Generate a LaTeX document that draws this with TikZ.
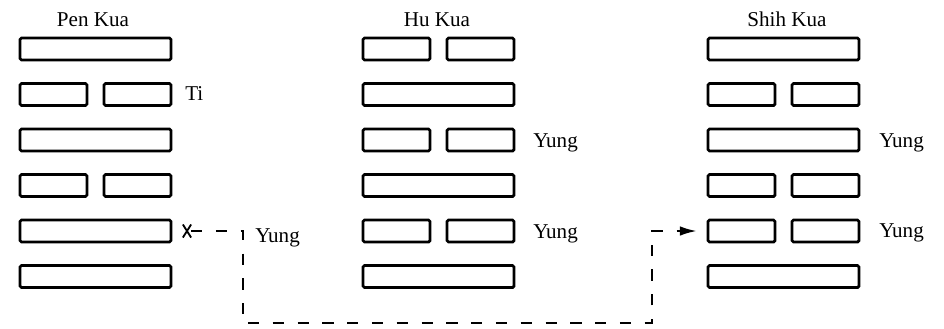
\documentclass[tikz,border=0pt]{standalone}
\usepackage{fontspec}
\setmainfont{Liberation Serif}
\usepackage{tikz}
\usetikzlibrary{positioning, arrows.meta, shapes.misc}

\begin{document}
\begin{tikzpicture}[x=0.25mm, y=-0.25mm,
    every node/.style={font=\fontsize{15}{18}\selectfont, inner sep=0pt},
    yang/.style={draw, line width=1.9pt, rounded corners=1pt,
                 minimum width=37.75mm, minimum height=5.5mm},
    yin/.style={yang, minimum width=16.75mm},
    link/.style={line width=1.4pt, dash pattern=on 2.8mm off 3.4mm}]
  \useasboundingbox (0,0) rectangle (944,328);
  % titles
  \node[anchor=base] (pent) at (93,26) {Pen Kua};
  \node[anchor=base] (hut) at (437,26) {Hu Kua};
  \node[anchor=base] (shiht) at (787,26) {Shih Kua};
  % Pen Kua
  \foreach \r in {1,3,5,6}
    \node[yang] (pen\r) at (95.5,{3.5+45.5*\r}) {};
  \foreach \r in {2,4} {
    \node[yin] (pen\r-l) at (53.5,{3.5+45.5*\r}) {};
    \node[yin] (pen\r-r) at (137.5,{3.5+45.5*\r}) {};
  }
  % Hu Kua
  \foreach \r in {2,4,6}
    \node[yang] (hu\r) at (438.5,{3.5+45.5*\r}) {};
  \foreach \r in {1,3,5} {
    \node[yin] (hu\r-l) at (396.5,{3.5+45.5*\r}) {};
    \node[yin] (hu\r-r) at (480.5,{3.5+45.5*\r}) {};
  }
  % Shih Kua
  \foreach \r in {1,3,6}
    \node[yang] (shih\r) at (783.5,{3.5+45.5*\r}) {};
  \foreach \r in {2,4,5} {
    \node[yin] (shih\r-l) at (741.5,{3.5+45.5*\r}) {};
    \node[yin] (shih\r-r) at (825.5,{3.5+45.5*\r}) {};
  }
  % labels
  \node[anchor=base west] (ti) at (185,100) {Ti};
  \node[anchor=base west] (peny) at (255,242) {Yung};
  \node[anchor=base west] (huy3) at (533,147) {Yung};
  \node[anchor=base west] (huy5) at (533,238) {Yung};
  \node[anchor=base west] (shihy3) at (879,147) {Yung};
  \node[anchor=base west] (shihy5) at (879,237) {Yung};
  % moving line
  \node[cross out, draw, line width=1.3pt, minimum width=1.6mm,
        minimum height=2.8mm] (tail) at (187,231) {};
  \coordinate (turnl) at (243,323);
  \coordinate (turnr) at (652,323);
  \draw[link, -{Latex[length=4.2mm,width=2.4mm]}]
    (tail) -| (turnl) -- (turnr) |- ([xshift=-2.5mm]shih5-l.west);
\end{tikzpicture}
\end{document}
